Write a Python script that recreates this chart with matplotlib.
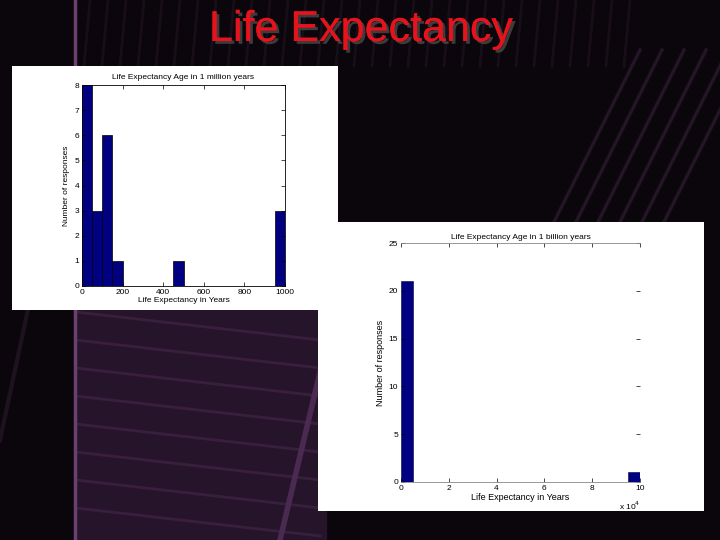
import numpy as np
import matplotlib.pyplot as plt
from matplotlib.patches import Rectangle
import matplotlib.patheffects as pe

plt.rcParams['font.family'] = ['Liberation Sans', 'DejaVu Sans']

# histogram 1: life expectancy in 1 million years (bins of 50 years)
bin_width_1 = 50
counts_1 = [8, 3, 6, 1, 0, 0, 0, 0, 0, 1, 0, 0, 0, 0, 0, 0, 0, 0, 0, 3]
xticks_1 = [0, 200, 400, 600, 800, 1000]
yticks_1 = [0, 1, 2, 3, 4, 5, 6, 7, 8]

# histogram 2: life expectancy in 1 billion years (bins of 5000 years)
bin_width_2 = 5000
counts_2 = [21, 0, 0, 0, 0, 0, 0, 0, 0, 0, 0, 0, 0, 0, 0, 0, 0, 0, 0, 1]
xticks_2 = [0, 20000, 40000, 60000, 80000, 100000]
xticklabels_2 = ['0', '2', '4', '6', '8', '10']
yticks_2 = [0, 5, 10, 15, 20, 25]

W, H = 720, 540
fig = plt.figure(figsize=(7.2, 5.4), dpi=100, facecolor='#0b060b')

def fr(x0, y0, x1, y1):
    # pixel box (top-left origin) -> figure fraction rect
    return [x0 / W, 1 - y1 / H, (x1 - x0) / W, (y1 - y0) / H]

# slide background with a few purple streaks
bg = fig.add_axes([0, 0, 1, 1])
bg.set_xlim(0, W)
bg.set_ylim(H, 0)
bg.axis('off')
bg.add_patch(Rectangle((76, 300), 250, 240, color='#26142a', zorder=0))
for yy in range(320, 540, 28):
    bg.plot([76, 320], [yy - 8, yy + 20], color='#3d2342', lw=2.0, alpha=0.8, zorder=1)
bg.plot([330, 280], [330, 540], color='#4a2a50', lw=4, zorder=1)
for xx in range(640, 760, 22):
    bg.plot([xx, xx - 90], [50, 230], color='#241526', lw=2.5, zorder=1)
for xx in range(90, 640, 18):
    bg.plot([xx, xx - 6], [0, 66], color='#180e19', lw=2.0, zorder=1)
bg.plot([75, 75], [0, 540], color='#6b4070', lw=2.5, zorder=2)
bg.plot([30, 0], [300, 440], color='#1f1220', lw=3, zorder=1)

title = fig.text(361 / W, 1 - 30 / H, 'Life Expectancy', color='#e8121c',
                 fontsize=31, ha='center', va='center')
title.set_path_effects([pe.withSimplePatchShadow(offset=(2, -2), shadow_rgbFace='#4a4a4a', alpha=0.8),
                        pe.Normal()])

fs = 6.0

def style(ax):
    ax.tick_params(direction='in', length=3, width=0.5, labelsize=fs, pad=2,
                   top=True, right=True, colors='black')
    for s in ax.spines.values():
        s.set_linewidth(0.6)

# panel 1
p1 = fig.add_axes(fr(12, 66, 338, 310))
p1.set_facecolor('white')
p1.set_xticks([]); p1.set_yticks([])
for s in p1.spines.values():
    s.set_visible(False)

ax1 = fig.add_axes(fr(82, 85, 285, 286))
left_1 = np.arange(len(counts_1)) * bin_width_1
ax1.bar(left_1, counts_1, width=bin_width_1, align='edge', color='#000080',
        edgecolor='black', linewidth=0.5)
ax1.set_xlim(0, 1000)
ax1.set_ylim(0, 8)
ax1.set_xticks(xticks_1)
ax1.set_yticks(yticks_1)
style(ax1)
ax1.set_title('Life Expectancy Age in 1 million years', fontsize=fs, pad=4)
ax1.set_xlabel('Life Expectancy in Years', fontsize=fs, labelpad=1)
ax1.set_ylabel('Number of responses', fontsize=fs, labelpad=3)

# panel 2
p2 = fig.add_axes(fr(318, 222, 704, 511))
p2.set_facecolor('white')
p2.set_xticks([]); p2.set_yticks([])
for s in p2.spines.values():
    s.set_visible(False)

ax2 = fig.add_axes(fr(401, 243, 640, 482))
left_2 = np.arange(len(counts_2)) * bin_width_2
ax2.bar(left_2, counts_2, width=bin_width_2, align='edge', color='#000080',
        edgecolor='#000040', linewidth=0.4)
ax2.set_xlim(0, 100000)
ax2.set_ylim(0, 25)
ax2.set_xticks(xticks_2)
ax2.set_xticklabels(xticklabels_2)
ax2.set_yticks(yticks_2)
style(ax2)
ax2.spines['left'].set_visible(False)
ax2.spines['right'].set_visible(False)
ax2.spines['top'].set_color('#888888')
ax2.spines['bottom'].set_color('#888888')
ax2.set_title('Life Expectancy Age in 1 billion years', fontsize=fs, pad=3)
ax2.set_xlabel('Life Expectancy in Years', fontsize=fs + 0.5, labelpad=1)
ax2.set_ylabel('Number of responses', fontsize=fs + 0.5, labelpad=3)
ax2.text(1.0, -0.075, r'x 10$^4$', transform=ax2.transAxes, fontsize=fs,
         ha='right', va='top')

fig.savefig('out.png', dpi=100, facecolor=fig.get_facecolor())
